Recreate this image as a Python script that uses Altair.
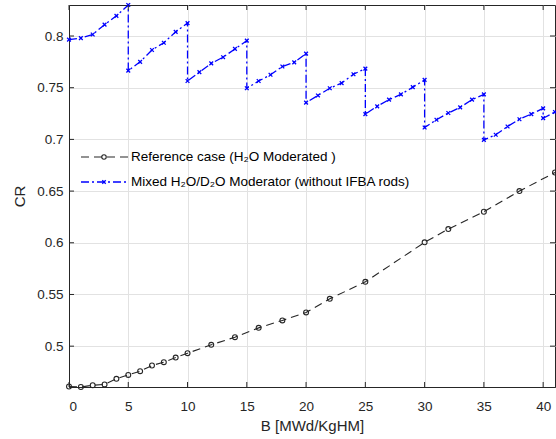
import altair as alt
import pandas as pd

# ---- data ----
ref_x = [0, 1, 2, 3, 4, 5, 6, 7, 8, 9, 10, 12, 14, 16, 18, 20, 22, 25, 30, 32, 35, 38, 41]
ref_y = [0.4610, 0.4605, 0.4622, 0.4630, 0.4684, 0.4722, 0.4758, 0.4813, 0.4845, 0.4890,
         0.4932, 0.5013, 0.5087, 0.5177, 0.5249, 0.5326, 0.5458, 0.5622, 0.6004, 0.6133,
         0.6300, 0.6500, 0.6680]

mix_x = [0, 1, 2, 3, 4, 5, 5, 6, 7, 8, 9, 10, 10, 11, 12, 13, 14, 15, 15, 16, 17, 18, 19, 20,
         20, 21, 22, 23, 24, 25, 25, 26, 27, 28, 29, 30, 30, 31, 32, 33, 34, 35, 35, 36, 37, 38,
         39, 40, 40, 41]
mix_y = [0.7965, 0.7980, 0.8015, 0.8110, 0.8195, 0.8300,
         0.7665, 0.7750, 0.7865, 0.7935, 0.8040, 0.8125,
         0.7565, 0.7650, 0.7735, 0.7795, 0.7875, 0.7955,
         0.7495, 0.7565, 0.7625, 0.7705, 0.7745, 0.7830,
         0.7355, 0.7425, 0.7495, 0.7545, 0.7630, 0.7685,
         0.7245, 0.7320, 0.7385, 0.7435, 0.7505, 0.7575,
         0.7115, 0.7190, 0.7255, 0.7310, 0.7385, 0.7435,
         0.6995, 0.7045, 0.7125, 0.7195, 0.7245, 0.7300,
         0.7205, 0.7265]

x_ticks = [0, 5, 10, 15, 20, 25, 30, 35, 40]
y_ticks = [0.5, 0.55, 0.6, 0.65, 0.7, 0.75, 0.8]

leg_labels = ["Reference case (H\u2082O Moderated )",
              "Mixed H\u2082O/D\u2082O Moderator (without IFBA rods)"]

W, H = 486, 382
FONT = "Liberation Sans"
AX = "#262626"

ref_df = pd.DataFrame({"x": ref_x, "y": ref_y, "i": range(len(ref_x))})
mix_df = pd.DataFrame({"x": mix_x, "y": mix_y, "i": range(len(mix_x))})
xt_df = pd.DataFrame({"t": x_ticks})
yt_df = pd.DataFrame({"t": y_ticks})
one = pd.DataFrame({"a": [0]})

xs = alt.Scale(domain=[0, 41], nice=False, zero=False)
ys = alt.Scale(domain=[0.4605, 0.830], nice=False, zero=False)

xax = alt.Axis(values=x_ticks, title="B [MWd/KgHM]", grid=True, tickSize=0,
               labelPadding=12, titlePadding=6)
yax = alt.Axis(values=y_ticks, title="CR", grid=True, tickSize=0, format="~g",
               labelPadding=6, titlePadding=9)

X = alt.X("x:Q", scale=xs, axis=xax)
Y = alt.Y("y:Q", scale=ys, axis=yax)

ref_line = alt.Chart(ref_df).mark_line(color="#262626", strokeWidth=1.1, strokeDash=[8, 5]).encode(
    x=X, y=Y, order="i:Q")
ref_pts = alt.Chart(ref_df).mark_point(shape="circle", filled=False, color="#262626",
                                       size=24, strokeWidth=1.1, opacity=1).encode(
    x=alt.X("x:Q", scale=xs), y=alt.Y("y:Q", scale=ys))

XSHAPE = "M-1,-1L1,1M-1,1L1,-1"
mix_line = alt.Chart(mix_df).mark_line(color="#0000ff", strokeWidth=1.3, strokeDash=[8, 3, 2, 3]).encode(
    x=alt.X("x:Q", scale=xs), y=alt.Y("y:Q", scale=ys), order="i:Q")
mix_pts = alt.Chart(mix_df).mark_point(shape=XSHAPE, filled=False, color="#0000ff",
                                       size=14, strokeWidth=1.3, opacity=1).encode(
    x=alt.X("x:Q", scale=xs), y=alt.Y("y:Q", scale=ys))

# inward ticks (MATLAB style)
tick_col = AX
xb = alt.Chart(xt_df).mark_rule(color=tick_col, strokeWidth=1).encode(
    x=alt.X("t:Q", scale=xs), y=alt.value(H), y2=alt.value(H - 5))
xtp = alt.Chart(xt_df).mark_rule(color=tick_col, strokeWidth=1).encode(
    x=alt.X("t:Q", scale=xs), y=alt.value(0), y2=alt.value(5))
yl = alt.Chart(yt_df).mark_rule(color=tick_col, strokeWidth=1).encode(
    y=alt.Y("t:Q", scale=ys), x=alt.value(0), x2=alt.value(5))
yr = alt.Chart(yt_df).mark_rule(color=tick_col, strokeWidth=1).encode(
    y=alt.Y("t:Q", scale=ys), x=alt.value(W), x2=alt.value(W - 5))

# legend (no box)
L1y, L2y = 152, 177
lx0, lx1, lmx, ltx = 12, 59, 35, 62
leg1_line = alt.Chart(one).mark_rule(color="#262626", strokeWidth=1.1, strokeDash=[8, 5]).encode(
    x=alt.value(lx0), x2=alt.value(lx1), y=alt.value(L1y))
leg1_pt = alt.Chart(one).mark_point(shape="circle", filled=False, color="#262626", size=20,
                                    strokeWidth=1.1, opacity=1).encode(
    x=alt.value(lmx), y=alt.value(L1y))
leg2_line = alt.Chart(one).mark_rule(color="#0000ff", strokeWidth=1.3, strokeDash=[8, 3, 2, 3]).encode(
    x=alt.value(lx0), x2=alt.value(lx1), y=alt.value(L2y))
leg2_pt = alt.Chart(one).mark_point(shape=XSHAPE, filled=False, color="#0000ff", size=12,
                                    strokeWidth=1.3, opacity=1).encode(
    x=alt.value(lmx), y=alt.value(L2y))
leg1_txt = alt.Chart(one).mark_text(text=leg_labels[0], align="left", baseline="middle",
                                    font=FONT, fontSize=13.5, color="#000000").encode(
    x=alt.value(ltx), y=alt.value(L1y))
leg2_txt = alt.Chart(one).mark_text(text=leg_labels[1], align="left", baseline="middle",
                                    font=FONT, fontSize=13.5, color="#000000").encode(
    x=alt.value(ltx), y=alt.value(L2y))

chart = alt.layer(
    ref_line, ref_pts, mix_line, mix_pts, xb, xtp, yl, yr,
    leg1_line, leg1_pt, leg1_txt, leg2_line, leg2_pt, leg2_txt
).properties(
    width=W, height=H,
    background="white",
    autosize=alt.AutoSizeParams(type="none"),
    padding={"left": 69, "top": 5, "right": 1, "bottom": 52},
).configure_view(
    stroke=AX, strokeWidth=1
).configure_axis(
    labelFont=FONT, titleFont=FONT, labelFontSize=13.5, titleFontSize=15,
    labelColor=AX, titleColor=AX, titleFontWeight="normal",
    gridColor="#e2e2e2", gridWidth=1, domainColor=AX, domainWidth=1
)

chart.save("out.html", embed_options={"renderer": "svg", "actions": False})
